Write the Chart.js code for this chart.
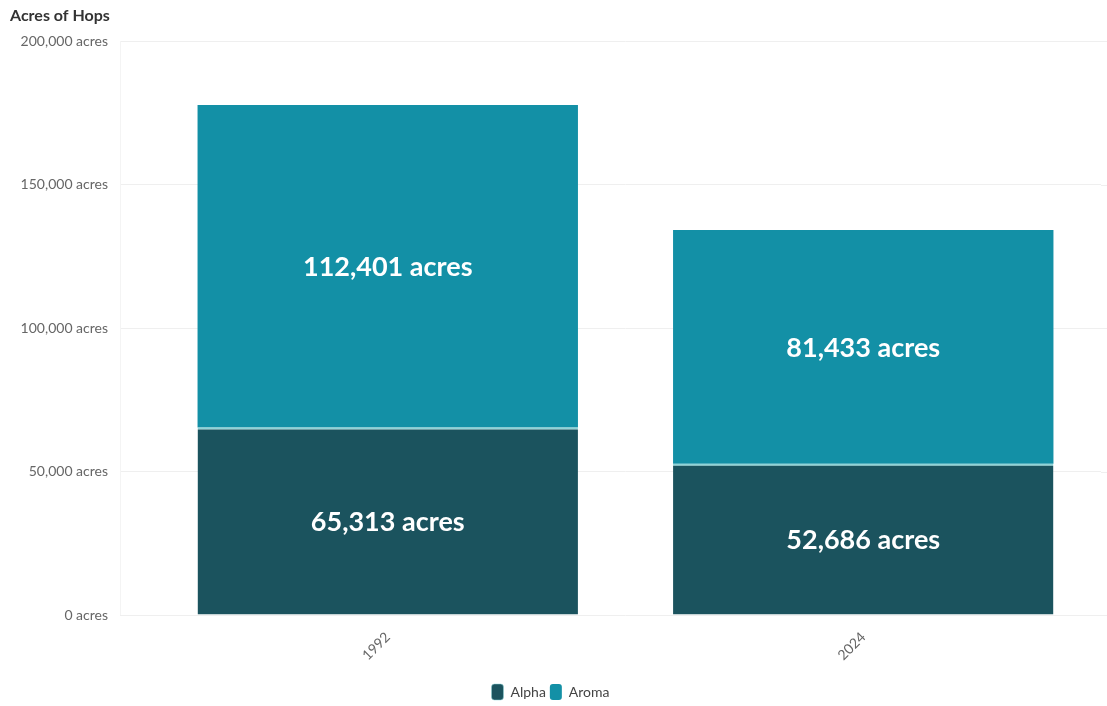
<!DOCTYPE html>
<html>
<head>
<meta charset="utf-8">
<script src="https://cdn.jsdelivr.net/npm/chart.js@4.4.1/dist/chart.umd.min.js"></script>
<style>
  html, body { margin: 0; padding: 0; background: #fff; overflow: hidden; }
  #c { display: block; }
</style>
</head>
<body>
<canvas id="c" width="1107" height="706"></canvas>
<script>
const chartTitle = 'Acres of Hops';
const categories = ['1992', '2024'];
const seriesNames = ['Alpha', 'Aroma'];
const alphaValues = [65313, 52686];
const aromaValues = [112401, 81433];
const yTicks = [0, 50000, 100000, 150000, 200000];

const FONT = 'Lato, "Source Sans Pro", "Open Sans", sans-serif';
const fmt = v => v.toLocaleString('en-US') + ' acres';

const titlePlugin = {
  id: 'customTitle',
  afterDraw(chart) {
    const ctx = chart.ctx;
    ctx.save();
    ctx.font = 'bold 16px ' + FONT;
    ctx.fillStyle = '#333';
    ctx.textBaseline = 'middle';
    ctx.textAlign = 'left';
    ctx.fillText(chartTitle, 10, 16);
    ctx.restore();
  }
};

const labelPlugin = {
  id: 'segLabels',
  afterDatasetsDraw(chart) {
    const ctx = chart.ctx;
    ctx.save();
    ctx.font = 'bold 27px ' + FONT;
    ctx.fillStyle = '#ffffff';
    ctx.textAlign = 'center';
    ctx.textBaseline = 'middle';
    chart.data.datasets.forEach((ds, di) => {
      const meta = chart.getDatasetMeta(di);
      meta.data.forEach((el, i) => {
        const p = el.getProps(['x', 'y', 'base'], true);
        ctx.fillText(fmt(ds.data[i]), p.x, (p.y + p.base) / 2 + 1);
      });
    });
    ctx.restore();
  }
};

const gridExtPlugin = {
  id: 'gridExt',
  beforeDatasetsDraw(chart) {
    const ctx = chart.ctx;
    const y = chart.scales.y;
    const a = chart.chartArea;
    ctx.save();
    ctx.strokeStyle = '#efefef';
    ctx.lineWidth = 1;
    yTicks.forEach(t => {
      const py = Math.round(y.getPixelForValue(t)) + 0.5;
      ctx.beginPath();
      ctx.moveTo(a.right, py);
      ctx.lineTo(1107, py);
      ctx.stroke();
    });
    ctx.strokeStyle = '#f4f4f4';
    ctx.beginPath();
    ctx.moveTo(120.5, a.top);
    ctx.lineTo(120.5, a.bottom);
    ctx.stroke();
    ctx.restore();
  }
};

new Chart(document.getElementById('c'), {
  type: 'bar',
  data: {
    labels: categories,
    datasets: [
      {
        label: seriesNames[0],
        data: alphaValues,
        backgroundColor: '#1b535e',
        borderColor: '#8fd4d8',
        borderWidth: { top: 2, left: 0, right: 0, bottom: 0 },
        borderSkipped: false,
        barPercentage: 0.8,
        categoryPercentage: 1.0
      },
      {
        label: seriesNames[1],
        data: aromaValues,
        backgroundColor: '#1390a6',
        borderWidth: 0,
        barPercentage: 0.8,
        categoryPercentage: 1.0
      }
    ]
  },
  options: {
    responsive: false,
    animation: false,
    devicePixelRatio: 1,
    layout: { padding: { top: 41, right: 6, left: 0, bottom: -4 } },
    plugins: {
      title: { display: false },
      tooltip: { enabled: false },
      legend: {
        display: true,
        position: 'bottom',
        labels: {
          font: { family: FONT, size: 14 },
          color: '#444',
          boxWidth: 12,
          boxHeight: 16,
          useBorderRadius: true,
          borderRadius: 3,
          padding: 4
        }
      }
    },
    scales: {
      x: {
        stacked: true,
        grid: { display: false },
        border: { display: false },
        ticks: {
          font: { family: FONT, size: 14 },
          color: '#666',
          minRotation: 45,
          maxRotation: 45,
          padding: 6
        },
        afterFit(scale) { scale.height = 65; }
      },
      y: {
        stacked: true,
        min: 0,
        max: 200000,
        afterBuildTicks(scale) { scale.ticks = yTicks.map(v => ({ value: v })); },
        grid: { color: '#efefef', tickLength: 30, drawTicks: true },
        border: { display: false },
        ticks: {
          font: { family: FONT, size: 14 },
          color: '#666',
          padding: 12,
          callback: v => fmt(v)
        },
        afterFit(scale) { scale.width = 150; }
      }
    }
  },
  plugins: [titlePlugin, labelPlugin, gridExtPlugin]
});
</script>
</body>
</html>
